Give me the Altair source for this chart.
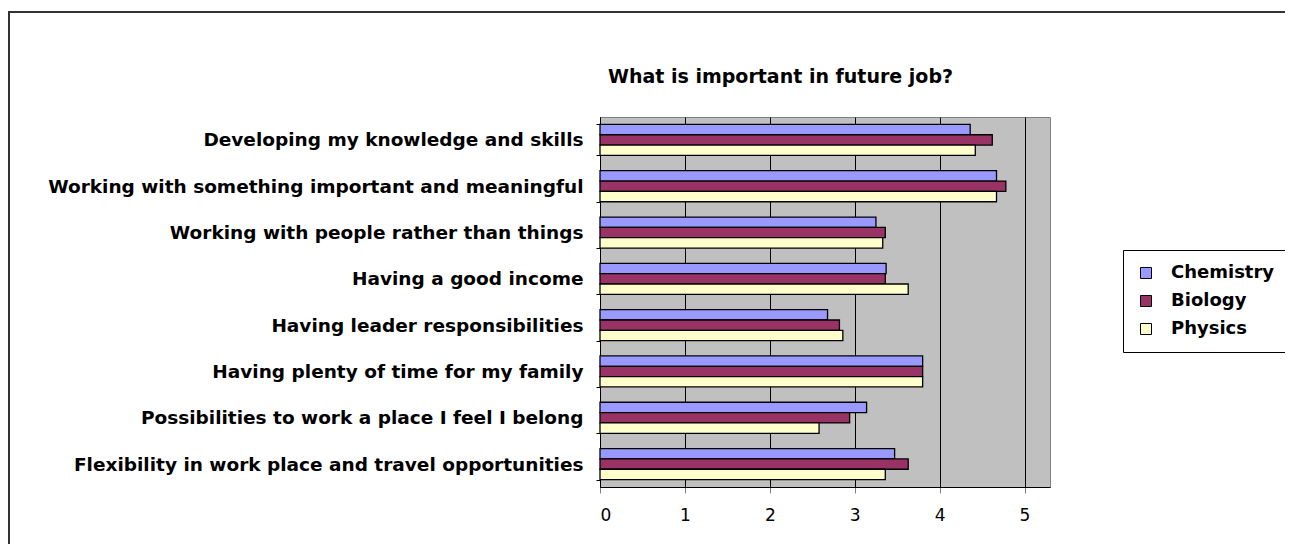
import altair as alt
import pandas as pd

categories = [
    "Developing my knowledge and skills",
    "Working with something important and meaningful",
    "Working with people rather than things",
    "Having a good income",
    "Having leader responsibilities",
    "Having plenty of time for my family",
    "Possibilities to work a place I feel I belong",
    "Flexibility in work place and travel opportunities",
]
series = ["Chemistry", "Biology", "Physics"]
chemistry = [4.36, 4.67, 3.25, 3.37, 2.68, 3.80, 3.14, 3.47]
biology = [4.62, 4.78, 3.36, 3.36, 2.82, 3.80, 2.94, 3.63]
physics = [4.42, 4.67, 3.33, 3.63, 2.86, 3.80, 2.58, 3.36]
colors = ["#9999FF", "#993366", "#FFFFCC"]
x_ticks = [0, 1, 2, 3, 4, 5]
chart_title = "What is important in future job?"

rows = []
for s, vals in zip(series, [chemistry, biology, physics]):
    for c, v in zip(categories, vals):
        rows.append({"item": c, "subject": s, "score": v})
df = pd.DataFrame(rows)

FONT = "DejaVu Sans"

bars = alt.Chart(df).mark_bar(stroke="black", strokeWidth=1.3, opacity=1).encode(
    y=alt.Y(
        "item:N",
        sort=categories,
        title=None,
        scale=alt.Scale(paddingInner=0.33, paddingOuter=0.16),
        axis=alt.Axis(
            labelFont=FONT,
            labelFontSize=18.5,
            labelFontWeight="bold",
            labelColor="black",
            labelPadding=13,
            labelLimit=700,
            tickBand="extent",
            tickColor="black",
            tickSize=4,
            domainColor="black",
            domainWidth=1,
            grid=False,
        ),
    ),
    yOffset=alt.YOffset("subject:N", sort=series, scale=alt.Scale(paddingInner=0, paddingOuter=0)),
    x=alt.X(
        "score:Q",
        title=None,
        scale=alt.Scale(domain=[0, 5.3], nice=False, zero=True),
        axis=alt.Axis(
            values=x_ticks,
            format="d",
            labelFont=FONT,
            labelFontSize=17,
            labelColor="black",
            labelPadding=14,
            tickColor="#808080",
            tickSize=6,
            domainColor="black",
            grid=True,
            gridColor="black",
            gridOpacity=1,
            gridWidth=1,
        ),
    ),
    color=alt.Color(
        "subject:N",
        sort=series,
        scale=alt.Scale(domain=series, range=colors),
        legend=alt.Legend(
            title=None,
            orient="none",
            legendX=523,
            legendY=133,
            strokeColor="black",
            fillColor="white",
            padding=14,
            symbolType="square",
            symbolSize=121,
            symbolStrokeColor="black",
            symbolStrokeWidth=1,
            symbolOpacity=1,
            labelFont=FONT,
            labelFontSize=18,
            labelFontWeight="bold",
            labelColor="black",
            labelOffset=16,
            rowPadding=10,
        ),
    ),
)

frame = alt.Chart(pd.DataFrame({"f": [0]})).mark_rect(
    filled=False, stroke="#333333", strokeWidth=2
).encode(
    x=alt.value(-591), x2=alt.value(720), y=alt.value(-105), y2=alt.value(460)
)

title = alt.Chart(pd.DataFrame({"t": [chart_title]})).mark_text(
    align="left", baseline="alphabetic", font=FONT, fontSize=19, fontWeight="bold", color="black"
).encode(
    text="t:N", x=alt.value(8), y=alt.value(-34)
)

chart = alt.layer(frame, bars, title).properties(
    width=450,
    height=370,
    padding={"left": 592, "top": 109, "right": 235, "bottom": 57},
    autosize=alt.AutoSizeParams(type="none"),
).configure(
    background="white"
).configure_view(
    fill="#C0C0C0", stroke="#808080", strokeWidth=1
)

chart.save("out.html", embed_options={"renderer": "svg", "actions": False})
